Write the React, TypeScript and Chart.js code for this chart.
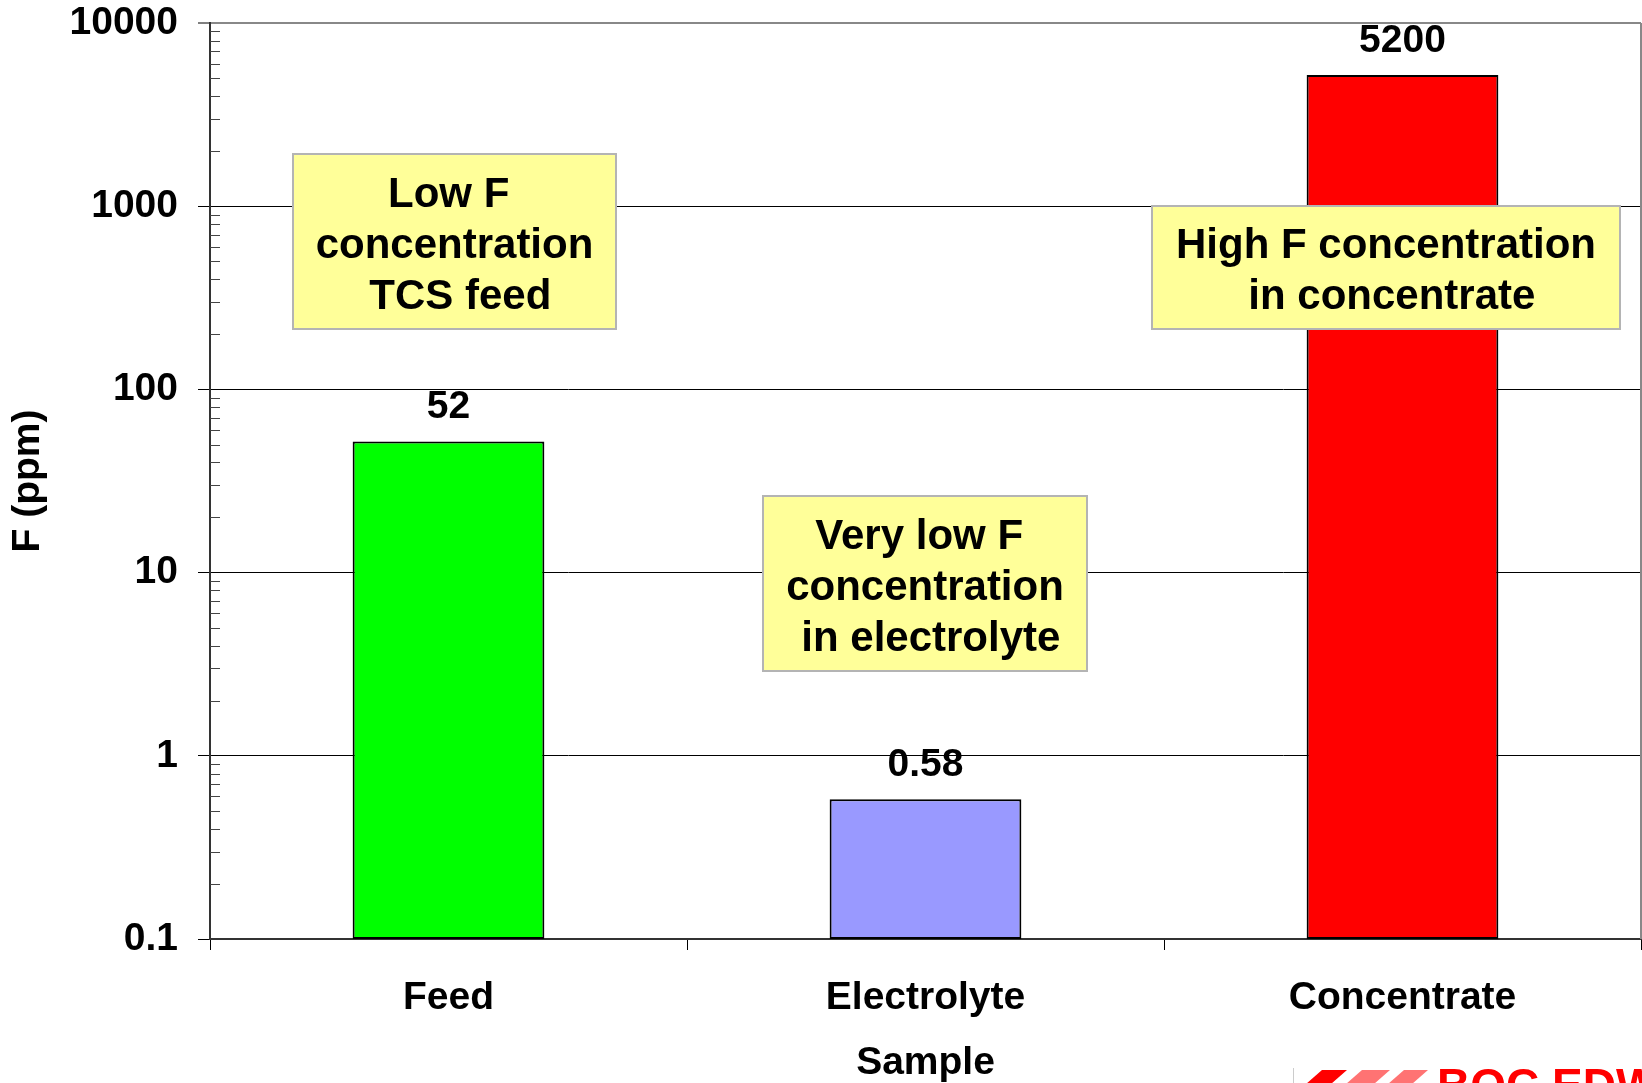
import { useEffect, useRef } from 'react';
import { Chart, registerables } from 'chart.js';

Chart.register(...registerables);

const categories = ['Feed', 'Electrolyte', 'Concentrate'];
const fValues = [52, 0.58, 5200];
const barColors = ['#00ff00', '#9999ff', '#ff0000'];
const valueLabels = ['52', '0.58', '5200'];
const yTickValues = [0.1, 1, 10, 100, 1000, 10000];
const yTickLabels = ['0.1', '1', '10', '100', '1000', '10000'];
const minorMultipliers = [2, 3, 4, 5, 6, 7, 8, 9];
const noteTexts = [
  ['Low F ', 'concentration', ' TCS feed'],
  ['Very low F ', 'concentration', ' in electrolyte'],
  ['High F concentration', ' in concentrate'],
];
const yTitle = 'F (ppm)';
const xTitle = 'Sample';
const logoText = 'BOC EDWARDS';

// layout of the text boxes (canvas pixels)
const noteBoxes = [
  { left: 293, top: 154, right: 616, bottom: 329 },
  { left: 763, top: 496, right: 1087, bottom: 671 },
  { left: 1152, top: 206, right: 1620, bottom: 329 },
];

const FONT = '"Liberation Sans", Arial, Helvetica, sans-serif';

const decorPlugin = {
  id: 'decor',
  afterDatasetsDraw(chart: any) {
    const ctx = chart.ctx as CanvasRenderingContext2D;
    const area = chart.chartArea;
    const y = chart.scales.y;
    ctx.save();
    // right border of the plot area
    ctx.strokeStyle = '#888888';
    ctx.lineWidth = 2;
    ctx.beginPath();
    ctx.moveTo(area.right, area.top);
    ctx.lineTo(area.right, area.bottom);
    ctx.stroke();
    // minor ticks inside
    ctx.strokeStyle = '#444444';
    ctx.lineWidth = 1;
    for (let d = 0; d < yTickValues.length - 1; d++) {
      for (const m of minorMultipliers) {
        const py = Math.round(y.getPixelForValue(yTickValues[d] * m)) + 0.5;
        ctx.beginPath();
        ctx.moveTo(area.left, py);
        ctx.lineTo(area.left + 10, py);
        ctx.stroke();
      }
    }
    // value labels
    const meta = chart.getDatasetMeta(0);
    ctx.fillStyle = '#000';
    ctx.font = `bold 39px ${FONT}`;
    ctx.textAlign = 'center';
    ctx.textBaseline = 'alphabetic';
    meta.data.forEach((bar: any, i: number) => {
      ctx.fillText(valueLabels[i], bar.x, bar.y - 23.5);
    });
    // note boxes
    noteBoxes.forEach((b, i) => {
      ctx.fillStyle = '#ffff99';
      ctx.fillRect(b.left, b.top, b.right - b.left, b.bottom - b.top);
      ctx.strokeStyle = '#b4b4b4';
      ctx.lineWidth = 2;
      ctx.strokeRect(b.left, b.top, b.right - b.left, b.bottom - b.top);
      ctx.fillStyle = '#000';
      ctx.font = `bold 42px ${FONT}`;
      const lines = noteTexts[i];
      const cx = (b.left + b.right) / 2;
      const cy = (b.top + b.bottom) / 2;
      lines.forEach((t, j) => {
        ctx.fillText(t, cx, cy + 16 + (j - (lines.length - 1) / 2) * 51);
      });
    });
    ctx.restore();
  },
  afterDraw(chart: any) {
    const ctx = chart.ctx as CanvasRenderingContext2D;
    ctx.save();
    // logo, cut off at the bottom edge
    ctx.strokeStyle = '#cccccc';
    ctx.lineWidth = 1;
    ctx.beginPath();
    ctx.moveTo(1293.5, 1068);
    ctx.lineTo(1293.5, 1083);
    ctx.stroke();
    const stripes = [
      { x0: 1322, x1: 1347, a: 1 },
      { x0: 1362, x1: 1390, a: 0.55 },
      { x0: 1404, x1: 1428, a: 0.55 },
    ];
    stripes.forEach((s) => {
      ctx.fillStyle = `rgba(255,0,0,${s.a})`;
      ctx.beginPath();
      ctx.moveTo(s.x0, 1070);
      ctx.lineTo(s.x1, 1070);
      ctx.lineTo(s.x1 - 16, 1084);
      ctx.lineTo(s.x0 - 16, 1084);
      ctx.closePath();
      ctx.fill();
    });
    ctx.fillStyle = '#ff0000';
    ctx.font = `bold 46px ${FONT}`;
    ctx.textAlign = 'left';
    ctx.textBaseline = 'alphabetic';
    ctx.fillText(logoText, 1437, 1101);
    ctx.restore();
  },
};

export default function App() {
  const ref = useRef<HTMLCanvasElement | null>(null);

  useEffect(() => {
    document.body.style.margin = '0';
    const canvas = ref.current;
    if (!canvas) return;
    const tickFont = { family: FONT, size: 39, weight: 'bold' as const, lineHeight: 1 };
    const chart = new Chart(canvas, {
      type: 'bar',
      data: {
        labels: categories,
        datasets: [
          {
            data: fValues,
            backgroundColor: barColors,
            borderColor: '#000000',
            borderWidth: 2,
            borderSkipped: false,
            categoryPercentage: 1,
            barPercentage: 0.402,
          },
        ],
      },
      options: {
        animation: false,
        responsive: false,
        devicePixelRatio: 1,
        layout: { padding: { top: 23, right: 1, bottom: 0, left: 0 } },
        plugins: {
          legend: { display: false },
          tooltip: { enabled: false },
        },
        scales: {
          x: {
            type: 'category',
            afterFit: (s: any) => {
              s.height = 144;
              s.paddingLeft = 0;
              s.paddingRight = 0;
              s.paddingTop = 0;
              s.paddingBottom = 0;
            },
            ticks: { color: '#000', font: tickFont, padding: 28.5, maxRotation: 0, autoSkip: false },
            grid: {
              offset: true,
              drawOnChartArea: false,
              drawTicks: true,
              tickLength: 11,
              tickColor: '#000',
              tickWidth: 1,
            },
            border: { display: true, color: '#333333', width: 2 },
            title: {
              display: true,
              text: xTitle,
              color: '#000',
              font: tickFont,
              padding: { top: 0, bottom: 0.5 },
            },
          },
          y: {
            type: 'logarithmic',
            min: 0.1,
            max: 10000,
            afterBuildTicks: (s: any) => {
              s.ticks = yTickValues.map((v) => ({ value: v, major: true }));
            },
            afterFit: (s: any) => {
              s.width = 210;
              s.paddingLeft = 0;
              s.paddingRight = 0;
              s.paddingTop = 0;
              s.paddingBottom = 0;
            },
            ticks: {
              color: '#000',
              font: tickFont,
              padding: 20,
              autoSkip: false,
              callback: (_v: any, i: number) => yTickLabels[i],
            },
            grid: {
              color: (c: any) => (c.tick && c.tick.value === 10000 ? '#888888' : '#000000'),
              lineWidth: (c: any) => (c.tick && c.tick.value === 10000 ? 2 : 1),
              drawTicks: true,
              tickLength: 12,
              tickColor: '#000',
              tickWidth: 1,
            },
            border: { display: true, color: '#333333', width: 2 },
            title: {
              display: true,
              text: yTitle,
              color: '#000',
              font: tickFont,
              padding: { top: 8.5, bottom: 0 },
            },
          },
        },
      },
      plugins: [decorPlugin],
    });
    return () => chart.destroy();
  }, []);

  return (
    <div style={{ position: 'absolute', left: 0, top: 0, width: 1642, height: 1083, background: '#fff' }}>
      <canvas ref={ref} width={1642} height={1083} style={{ width: 1642, height: 1083, display: 'block' }} />
    </div>
  );
}
